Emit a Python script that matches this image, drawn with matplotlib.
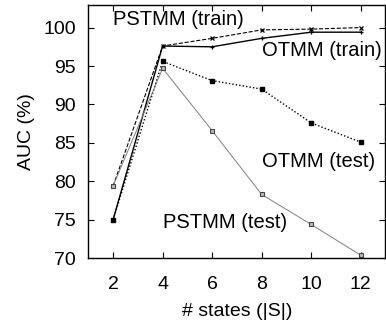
import matplotlib
matplotlib.use("Agg")
import matplotlib.pyplot as plt

plt.rcParams['font.family'] = ['Liberation Sans', 'DejaVu Sans']

# data
states = [2, 4, 6, 8, 10, 12]
pstmm_train = [79.4, 97.6, 98.6, 99.7, 99.8, 100.0]
otmm_train = [75.0, 97.6, 97.5, 98.6, 99.4, 99.4]
otmm_test = [75.0, 95.6, 93.1, 92.0, 87.6, 85.1]
pstmm_test = [79.4, 94.7, 86.6, 78.3, 74.4, 70.4]

fig = plt.figure(figsize=[3.86, 3.29], dpi=100)
ax = fig.add_axes([0.2288, 0.2149, 0.7699, 0.7714])

ax.plot(states, pstmm_train, '--', color='black', linewidth=0.8,
        marker='x', markersize=3.5, markeredgewidth=0.9)
ax.plot(states, otmm_train, '-', color='black', linewidth=1.0,
        marker='+', markersize=3.5, markeredgewidth=0.9)
ax.plot(states, otmm_test, linestyle=(0, (1, 1.5)), color='black', linewidth=1.0,
        marker='s', markersize=2.5)
ax.plot(states, pstmm_test, '-', color='#808080', linewidth=0.7,
        marker='s', markersize=3.5, markerfacecolor='#bbbbbb',
        markeredgecolor='#444444', markeredgewidth=0.8)

# inline series labels
ax.text(2.0, 101.1, 'PSTMM (train)', fontsize=14.5, va='center', ha='left')
ax.text(8.03, 97.0, 'OTMM (train)', fontsize=14.5, va='center', ha='left')
ax.text(8.03, 82.6, 'OTMM (test)', fontsize=14.5, va='center', ha='left')
ax.text(4.02, 74.7, 'PSTMM (test)', fontsize=14.5, va='center', ha='left')

ax.set_xlim(1, 13)
ax.set_ylim(70, 103)
ax.set_xticks(states)
ax.set_yticks([70, 75, 80, 85, 90, 95, 100])
ax.tick_params(direction='in', top=True, right=True, labelsize=14,
               length=4, width=0.8)
ax.tick_params(axis='x', pad=13)
ax.tick_params(axis='y', pad=9)
ax.set_xlabel('# states (|S|)', fontsize=14, labelpad=7)
ax.set_ylabel('AUC (%)', fontsize=14, labelpad=6)
for s in ax.spines.values():
    s.set_linewidth(1.0)

fig.savefig('out.png', dpi=100)
